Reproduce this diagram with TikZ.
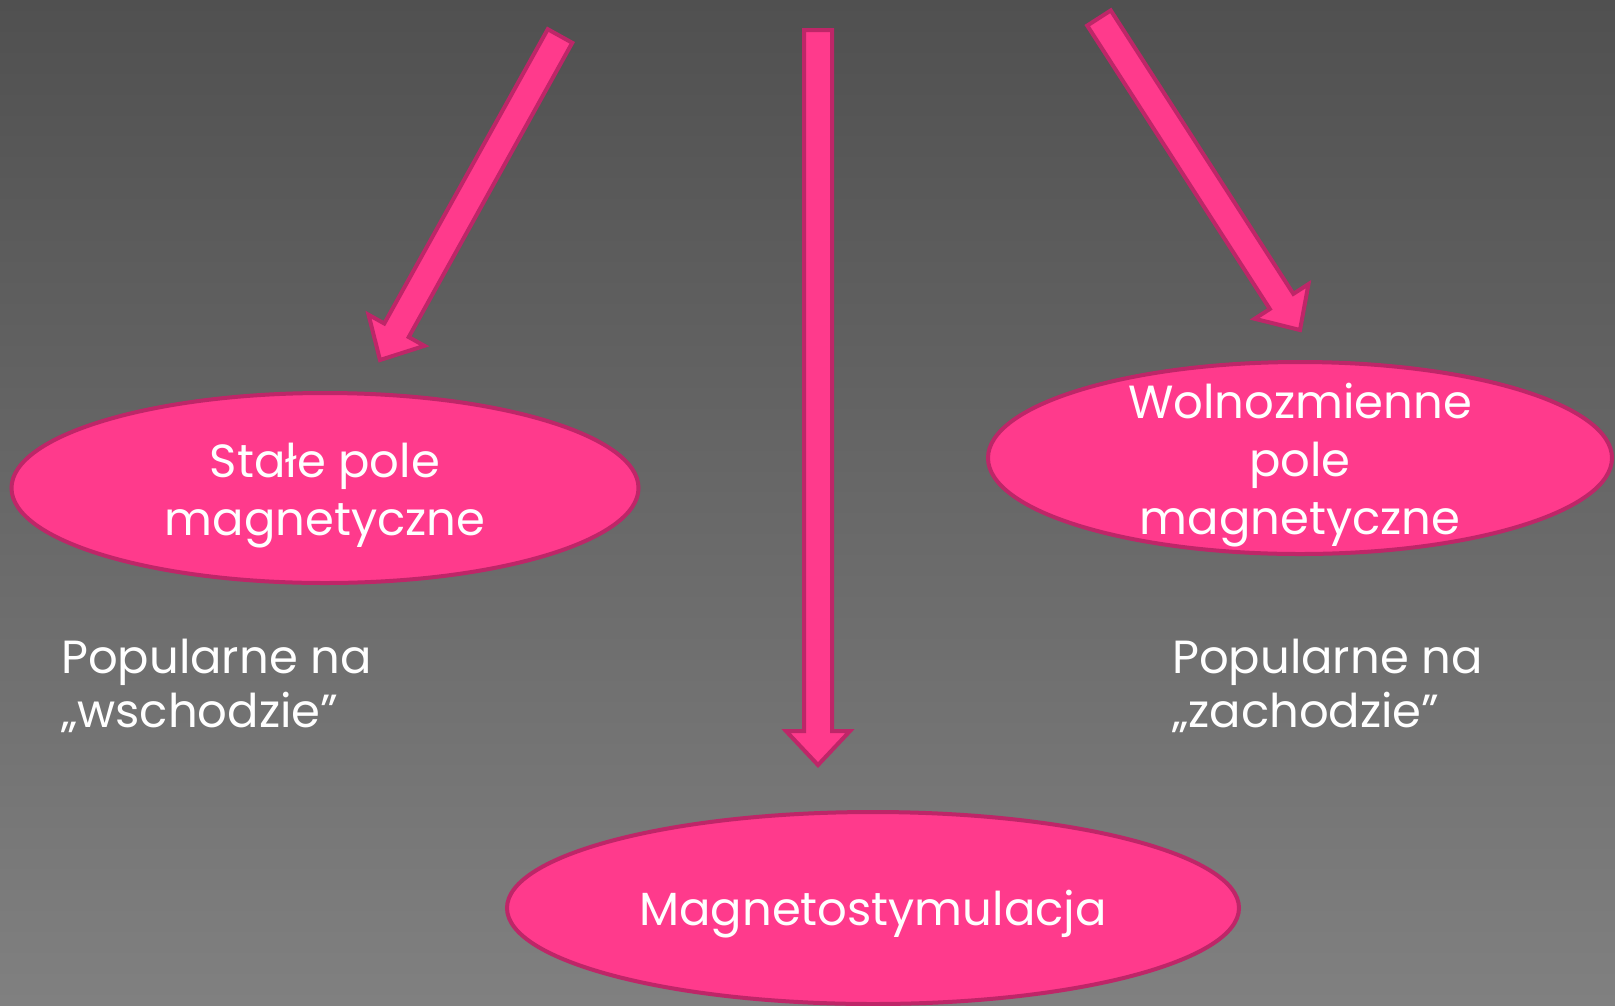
\documentclass[tikz,border=0pt]{standalone}
\usepackage{fontspec}
\setmainfont{Poppins}
\usetikzlibrary{shapes.geometric,calc}
\definecolor{pinkfill}{RGB}{255,58,140}
\definecolor{pinkedge}{RGB}{190,38,104}
\definecolor{bgtop}{RGB}{80,80,80}
\definecolor{bgbot}{RGB}{128,128,128}
\tikzset{
  ell/.style={ellipse, draw=pinkedge, fill=pinkfill, line width=4pt, inner sep=0pt},
  lbl/.style={text=white, align=center, font=\fontsize{46.5}{58}\selectfont},
  side/.style={text=white, align=left, anchor=west, inner sep=0pt, font=\fontsize{46.5}{54}\selectfont},
  bigarrow/.style={draw=pinkedge, fill=pinkfill, line width=4pt, line join=miter},
}
\newcommand{\pinkarrow}[2]{%
  \coordinate (h#1#2) at ($(#2)!34pt!(#1)$);
  \draw[bigarrow] ($(#1)!14pt!90:(#2)$) -- ($(h#1#2)!14pt!-90:(#1)$) -- ($(h#1#2)!32pt!-90:(#1)$) -- (#2)
     -- ($(h#1#2)!32pt!90:(#1)$) -- ($(h#1#2)!14pt!90:(#1)$) -- ($(#1)!14pt!-90:(#2)$) -- cycle;
}
\begin{document}
\begin{tikzpicture}[x=1pt,y=-1pt]
\shade[top color=bgtop, bottom color=bgbot] (0,0) rectangle (1615,1005);
\useasboundingbox (0,0) rectangle (1615,1005);
% ellipses
\node[ell, minimum width=627pt, minimum height=190pt] (stale) at (325,488) {};
\node[lbl] at ($(stale)+(0,8)$) {Stałe pole\\magnetyczne};
\node[ell, minimum width=624pt, minimum height=192pt] (wolno) at (1300,458) {};
\node[lbl] at ($(wolno)+(0,7)$) {Wolnozmienne\\pole\\magnetyczne};
\node[ell, minimum width=732pt, minimum height=192pt] (magneto) at (873,908) {};
\node[lbl] at ($(magneto)+(0,6)$) {Magnetostymulacja};
% side texts
\node[side] (wschod) at (61,686) {Popularne na\\„wschodzie”};
\node[side] (zachod) at (1172,686) {Popularne na\\„zachodzie”};
% arrows
\coordinate (la) at (560,36);
\coordinate (lb) at (380,360);
\coordinate (ma) at (818,30);
\coordinate (mb) at (818,765);
\coordinate (ra) at (1099,18);
\coordinate (rb) at (1300,330);
\pinkarrow{la}{lb}
\pinkarrow{ma}{mb}
\pinkarrow{ra}{rb}
\end{tikzpicture}
\end{document}
